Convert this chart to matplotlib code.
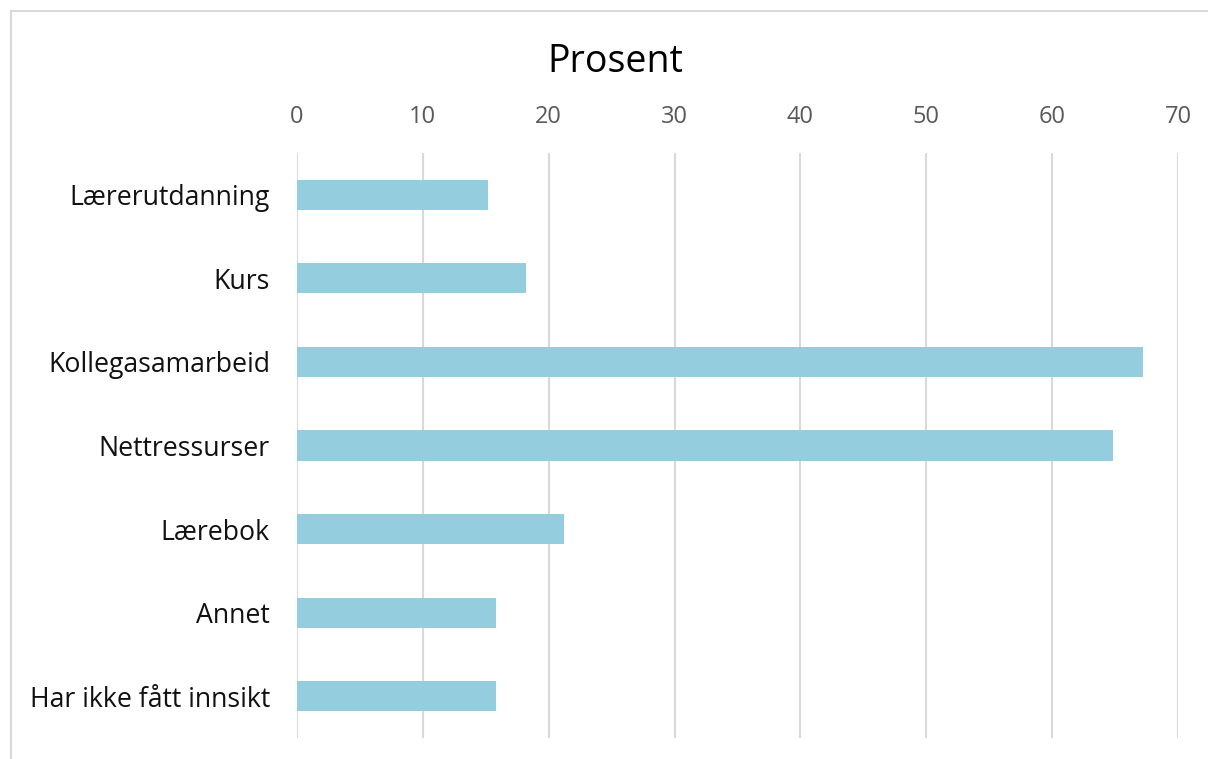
import matplotlib.pyplot as plt
from matplotlib.lines import Line2D

plt.rcParams['font.family'] = ['Open Sans', 'DejaVu Sans']

categories = ['Lærerutdanning', 'Kurs', 'Kollegasamarbeid', 'Nettressurser',
              'Lærebok', 'Annet', 'Har ikke fått innsikt']
values = [15.2, 18.2, 67.2, 64.8, 21.2, 15.8, 15.8]
xticks = [0, 10, 20, 30, 40, 50, 60, 70]

fig = plt.figure(figsize=(12.08, 7.59), dpi=100)
ax = fig.add_axes([297 / 1208, 1 - 738 / 759, (1178 - 297) / 1208, (738 - 153) / 759])

ypos = list(range(len(categories)))
ax.barh(ypos, values, height=0.36, color='#94cddd', zorder=3)
ax.set_ylim(len(categories) - 0.5, -0.5)
ax.set_yticks(ypos)
ax.set_yticklabels(categories, fontsize=19.2, color='#111111')

ax.set_xlim(0, 70)
ax.set_xticks(xticks)
ax.xaxis.tick_top()
ax.tick_params(axis='x', length=0, pad=17, labelsize=17, labelcolor='#595959')
ax.tick_params(axis='y', length=0, pad=19.5)
ax.grid(axis='x', color='#d9d9d9', linewidth=1.5, zorder=0)
for s in ax.spines.values():
    s.set_visible(False)

fig.text((549 + 682) / 2 / 1208, 1 - 62 / 759, 'Prosent', ha='center', va='center',
         fontsize=27, color='#000000')

# chart area border (top and left edge visible)
fig.add_artist(Line2D([10.5 / 1208, 1], [1 - 11 / 759] * 2, color='#d9d9d9', lw=1.5))
fig.add_artist(Line2D([10.5 / 1208] * 2, [0, 1 - 11 / 759], color='#d9d9d9', lw=1.5))

fig.savefig('out.png', dpi=100)
